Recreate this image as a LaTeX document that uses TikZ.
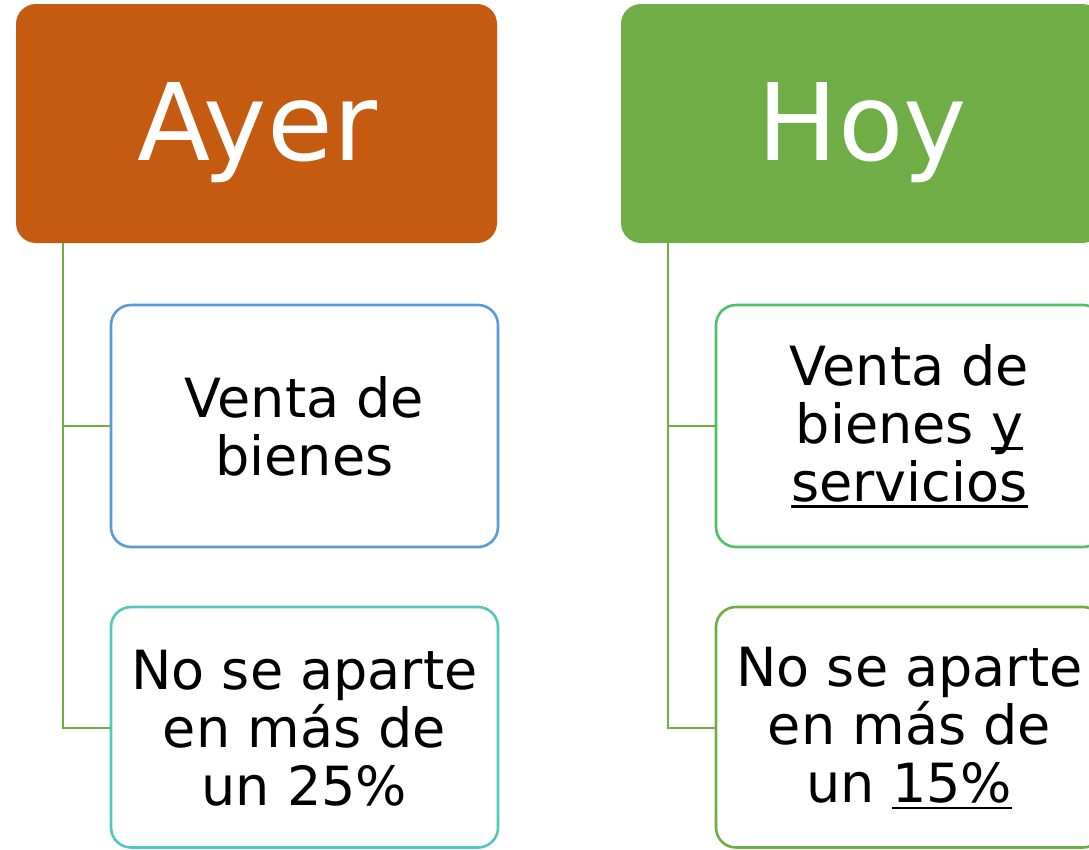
\documentclass[tikz,border=0pt]{standalone}
\usepackage{fontspec}
\setmainfont{DejaVu Sans}
\definecolor{orangeC}{HTML}{C55A11}
\definecolor{greenC}{HTML}{70AD47}
\definecolor{blueC}{HTML}{5B9BD5}
\definecolor{tealC}{HTML}{52C8B8}
\definecolor{lgreenC}{HTML}{4DC06A}
\newcommand\myul[1]{\leavevmode\setbox0\hbox{#1}\rlap{\rule[-7pt]{\wd0}{2.6pt}}\box0}
\tikzset{
  headbox/.style={rounded corners=20pt},
  headtext/.style={text=white, font=\fontsize{107}{110}\selectfont, anchor=base, inner sep=0pt},
  child/.style={line width=2.6pt, rounded corners=20pt, fill=white},
  childtext/.style={align=center, font=\fontsize{54}{58}\selectfont, text=black},
  conn/.style={draw=greenC, line width=2.4pt}
}
\begin{document}
\begin{tikzpicture}[x=1pt,y=-1pt]
\useasboundingbox (0,0) rectangle (1089,849);
\clip (0,0) rectangle (1089,849);
% headers
\fill[headbox, orangeC] (16,4) rectangle (497,243);
\node[headtext] (ayer) at (257.5,160) {Ayer};
\fill[headbox, greenC] (621,4) rectangle (1102,243);
\node[headtext] (hoy) at (862.5,160) {Hoy};
\coordinate (a0) at (63,243);
\coordinate (h0) at (668,243);
% children left
\draw[child, draw=blueC] (111,305) rectangle (498,547);
\node[childtext] (a1) at (304.5,426) {Venta de\\bienes};
\draw[child, draw=tealC] (111,607) rectangle (498,847.5);
\node[childtext] (a2) at (304.5,728) {No se aparte\\en más de\\un 25\%};
% children right
\draw[child, draw=lgreenC] (716,305) rectangle (1103,547);
\node[childtext] (h1) at (909.5,426) {Venta de\\bienes \myul{y}\\\myul{servicios}};
\draw[child, draw=greenC] (716,607) rectangle (1103,847.5);
\node[childtext] (h2) at (909.5,728) {No se aparte\\en más de\\un \myul{15\%}};
% connectors
\coordinate (a1w) at (111,426);
\coordinate (a2w) at (111,728);
\coordinate (h1w) at (716,426);
\coordinate (h2w) at (716,728);
\draw[conn] (a0) |- (a1w);
\draw[conn] (a0) |- (a2w);
\draw[conn] (h0) |- (h1w);
\draw[conn] (h0) |- (h2w);
\end{tikzpicture}
\end{document}
